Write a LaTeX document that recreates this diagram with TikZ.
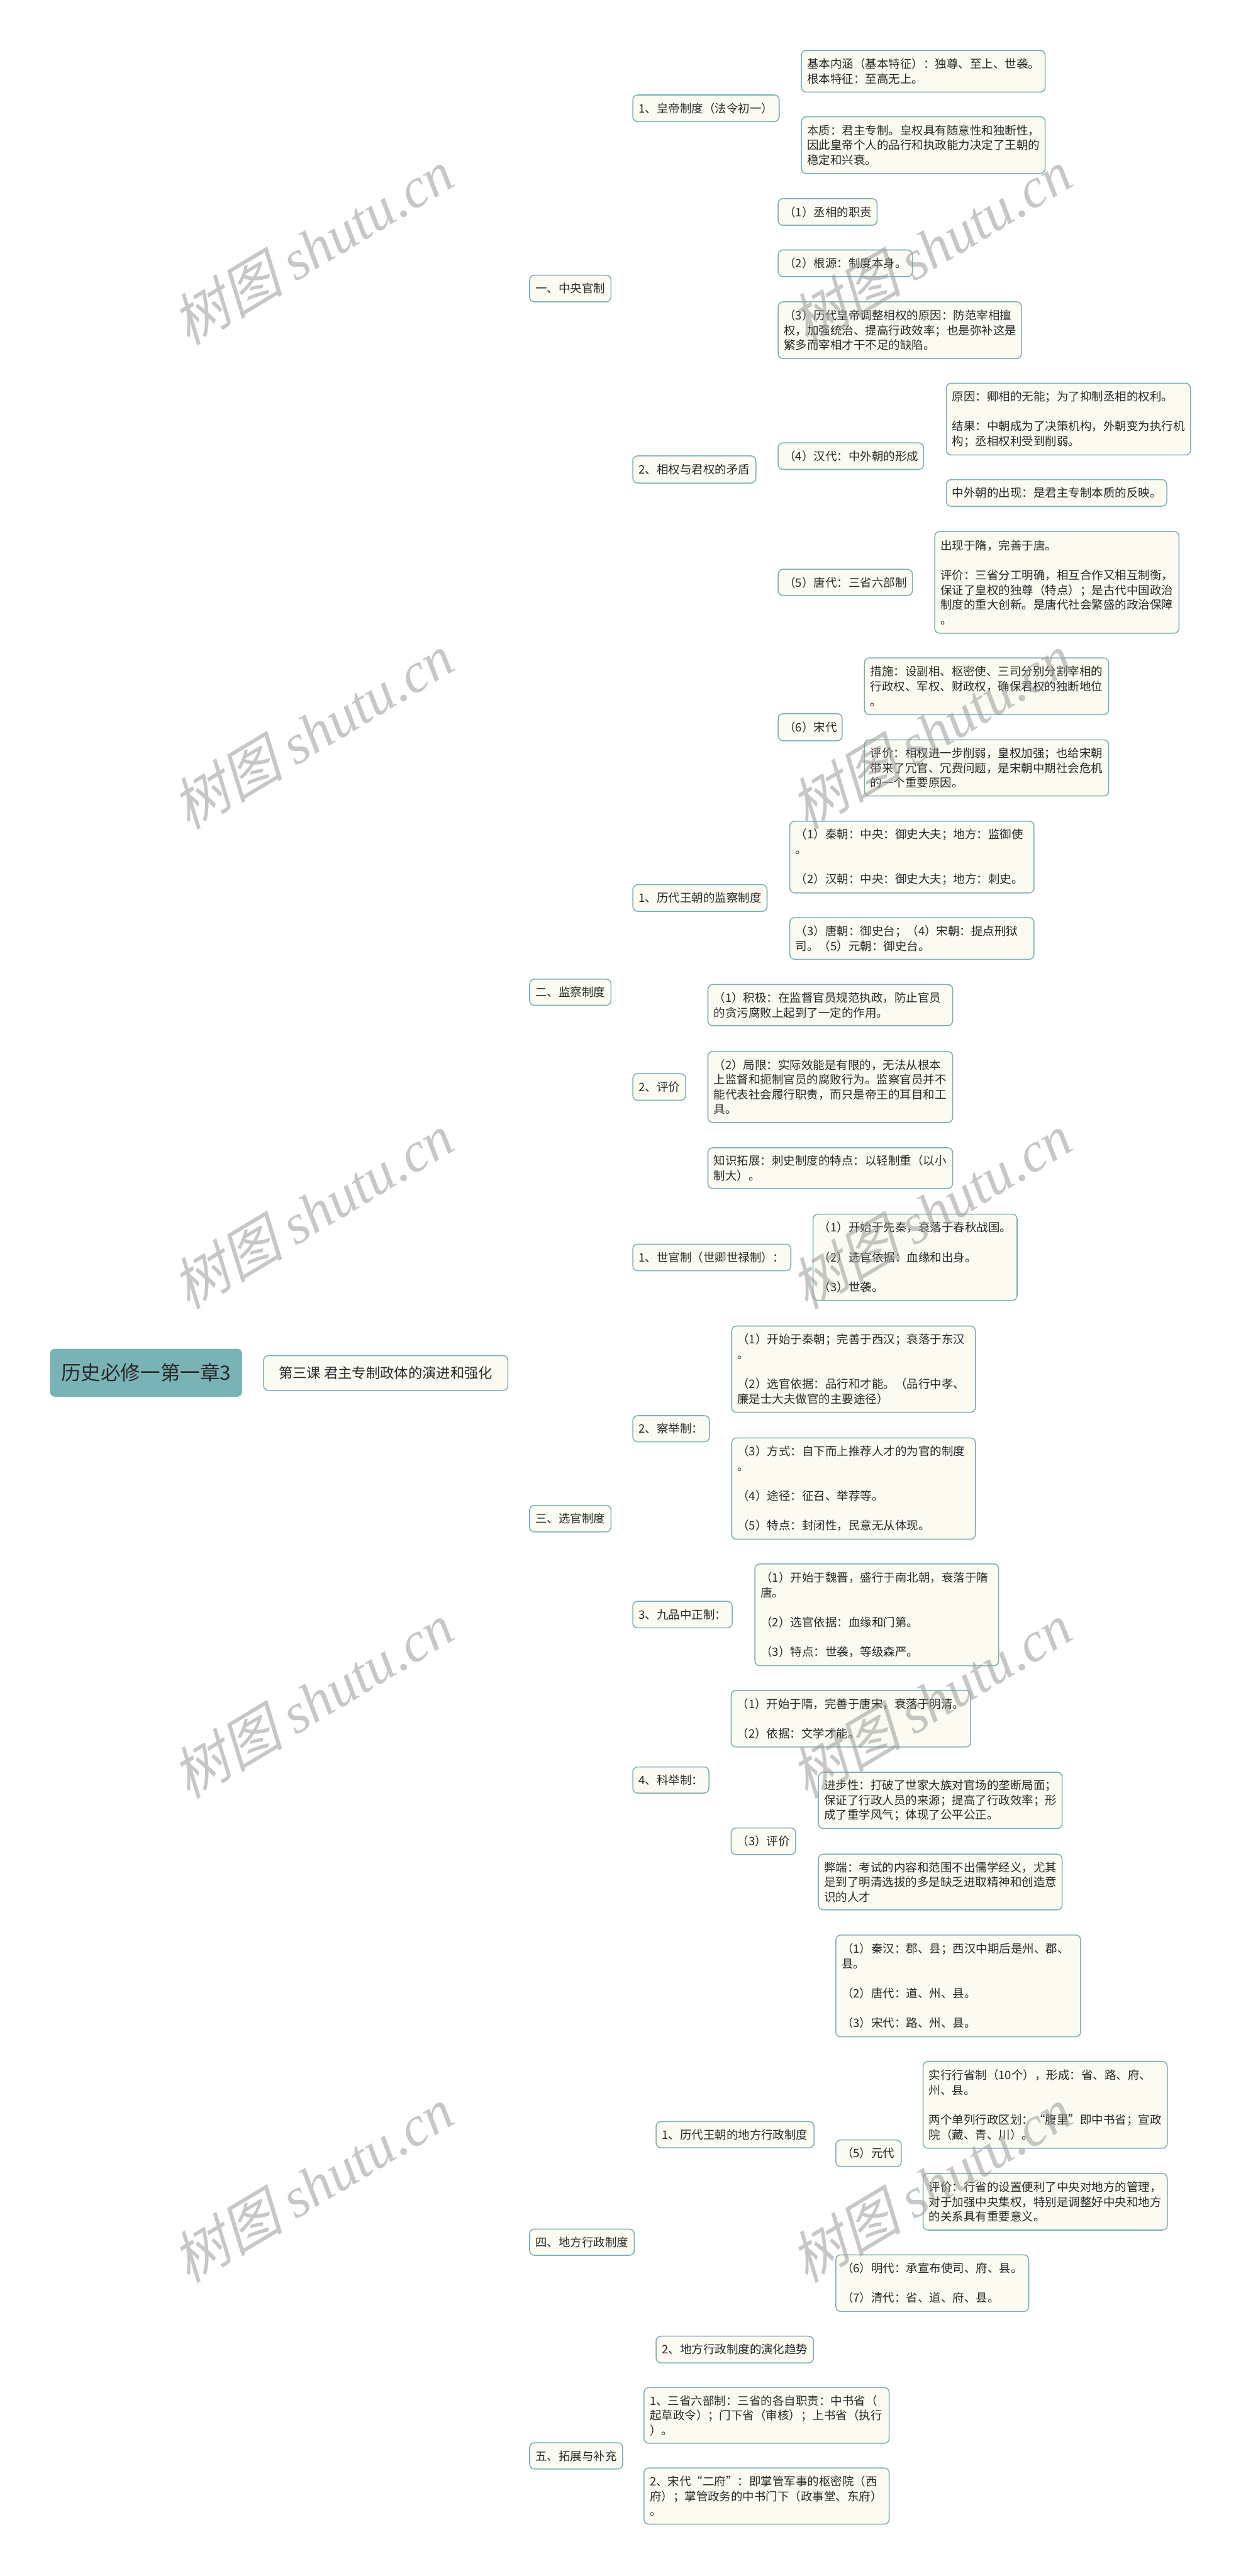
\documentclass[tikz,border=0pt]{standalone}
\usepackage{fontspec}
\setmainfont{Noto Sans CJK SC}
\newfontfamily\wmcjk[FakeSlant=0.25]{Noto Sans CJK SC}
\newfontfamily\wmlat{Liberation Serif}
\setlength{\parindent}{0pt}
\pgfdeclarelayer{bgl}
\pgfsetlayers{bgl,main}
\definecolor{lc}{RGB}{122,176,180}
\definecolor{bgc}{RGB}{252,251,242}
\definecolor{rootc}{RGB}{122,179,182}
\definecolor{tc}{RGB}{40,40,40}
\tikzset{
  box/.style={draw=lc, fill=bgc, line width=1pt, rounded corners=5pt, anchor=north west,
    inner xsep=6pt, inner ysep=0pt, align=left, text=tc,
    font=\fontsize{12pt}{15.3pt}\selectfont},
  conn/.style={draw=lc, line width=1.5pt},
  wm/.style={rotate=31, text=black!40, opacity=0.55, font=\fontsize{58pt}{60pt}\selectfont, inner sep=0pt}
}
\newcommand{\bl}{\\[15.3pt]}
\begin{document}
\begin{tikzpicture}[x=1pt,y=-1pt]
\path[use as bounding box, fill=white] (0,0) rectangle (1280,2658.5);

% root and lesson
\node[fill=rootc, draw=rootc, rounded corners=5pt, anchor=north west, minimum width=198pt, minimum height=49pt,
  inner sep=0pt, text=tc, font=\fontsize{20.5pt}{24pt}\selectfont] (root) at (51.5,1392) {历史必修一第一章3};
\node[box, minimum width=252pt, minimum height=36pt, align=center, font=\fontsize{14.5pt}{17pt}\selectfont] (lesson) at (271.5,1398.5) {第三课 君主专制政体的演进和强化};

% level 1
\node[box, text width=72pt, minimum height=27.5pt] (L1) at (546,283.5) {一、中央官制};
\node[box, text width=72pt, minimum height=27pt] (L2) at (546,1010) {二、监察制度};
\node[box, text width=72pt, minimum height=27.5pt] (L3) at (546,1553) {三、选官制度};
\node[box, text width=96pt, minimum height=27pt] (L4) at (546,2300) {四、地方行政制度};
\node[box, text width=84pt, minimum height=27pt] (L5) at (546,2520.5) {五、拓展与补充};

% branch 1
\node[box, text width=139pt, minimum height=27.5pt] (A1) at (652.5,97.5) {1、皇帝制度（法令初一）};
\node[box, text width=115pt, minimum height=28pt] (A2) at (652.5,470) {2、相权与君权的矛盾};
\node[box, text width=239.5pt, minimum height=43pt] (A1a) at (826.5,51.5) {基本内涵（基本特征）：独尊、至上、世袭。\\根本特征：至高无上。};
\node[box, text width=239.5pt, minimum height=58.5pt] (A1b) at (826.5,120) {本质：君主专制。皇权具有随意性和独断性，\\因此皇帝个人的品行和执政能力决定了王朝的\\稳定和兴衰。};
\node[box, text width=90pt, minimum height=27.5pt] (A2a) at (802.5,204.5) {（1）丞相的职责};
\node[box, text width=126.5pt, minimum height=27.5pt] (A2b) at (802.5,257.5) {（2）根源：制度本身。};
\node[box, text width=239pt, minimum height=58.5pt] (A2c) at (802.5,311) {（3）历代皇帝调整相权的原因：防范宰相擅\\权，加强统治、提高行政效率；也是弥补这是\\繁多而宰相才干不足的缺陷。};
\node[box, text width=138pt, minimum height=27.5pt] (A2d) at (802.5,456.5) {（4）汉代：中外朝的形成};
\node[box, text width=126.5pt, minimum height=27pt] (A2e) at (802.5,587) {（5）唐代：三省六部制};
\node[box, text width=54pt, minimum height=28pt] (A2f) at (802.5,736) {（6）宋代};
\node[box, text width=240pt, minimum height=74pt] (A2d1) at (976,395) {原因：卿相的无能；为了抑制丞相的权利。\bl 结果：中朝成为了决策机构，外朝变为执行机\\构；丞相权利受到削弱。};
\node[box, text width=215.5pt, minimum height=27.5pt] (A2d2) at (976,494.5) {中外朝的出现：是君主专制本质的反映。};
\node[box, text width=240pt, minimum height=105pt] (A2e1) at (964,548) {出现于隋，完善于唐。\bl 评价：三省分工明确，相互合作又相互制衡，\\保证了皇权的独尊（特点）；是古代中国政治\\制度的重大创新。是唐代社会繁盛的政治保障\\。};
\node[box, text width=240pt, minimum height=58.5pt] (A2f1) at (891.5,678.5) {措施：设副相、枢密使、三司分别分割宰相的\\行政权、军权、财政权，确保君权的独断地位\\。};
\node[box, text width=240pt, minimum height=58pt] (A2f2) at (891.5,763) {评价：相权进一步削弱，皇权加强；也给宋朝\\带来了冗官、冗费问题，是宋朝中期社会危机\\的一个重要原因。};

% branch 2
\node[box, text width=126.5pt, minimum height=27.5pt] (B1) at (652.5,912.5) {1、历代王朝的监察制度};
\node[box, text width=42.5pt, minimum height=27.5pt] (B2) at (652.5,1107.5) {2、评价};
\node[box, text width=240pt, minimum height=74pt] (B1a) at (814.5,847) {（1）秦朝：中央：御史大夫；地方：监御使\\。\bl （2）汉朝：中央：御史大夫；地方：刺史。};
\node[box, text width=240pt, minimum height=43pt] (B1b) at (814.5,946.5) {（3）唐朝：御史台；（4）宋朝：提点刑狱\\司。（5）元朝：御史台。};
\node[box, text width=240.5pt, minimum height=42.5pt] (B2a) at (730,1015.5) {（1）积极：在监督官员规范执政，防止官员\\的贪污腐败上起到了一定的作用。};
\node[box, text width=240.5pt, minimum height=73.5pt] (B2b) at (730,1084.5) {（2）局限：实际效能是有限的，无法从根本\\上监督和扼制官员的腐败行为。监察官员并不\\能代表社会履行职责，而只是帝王的耳目和工\\具。};
\node[box, text width=240.5pt, minimum height=42pt] (B2c) at (730,1184) {知识拓展：刺史制度的特点：以轻制重（以小\\制大）。};

% branch 3
\node[box, text width=151pt, minimum height=27.5pt] (C1) at (652.5,1283.5) {1、世官制（世卿世禄制）：};
\node[box, text width=67pt, minimum height=27pt] (C2) at (652.5,1460.5) {2、察举制：};
\node[box, text width=90.5pt, minimum height=27.5pt] (C3) at (652.5,1652) {3、九品中正制：};
\node[box, text width=66.5pt, minimum height=27pt] (C4) at (652.5,1823) {4、科举制：};
\node[box, text width=198.5pt, minimum height=89pt] (C1a) at (838.5,1252.5) {（1）开始于先秦，衰落于春秋战国。\bl （2）选官依据：血缘和出身。\bl （3）世袭。};
\node[box, text width=239.5pt, minimum height=89pt] (C2a) at (754.5,1368) {（1）开始于秦朝；完善于西汉；衰落于东汉\\。\bl （2）选官依据：品行和才能。（品行中孝、\\廉是士大夫做官的主要途径）};
\node[box, text width=239.5pt, minimum height=104.5pt] (C2b) at (754.5,1483.5) {（3）方式：自下而上推荐人才的为官的制度\\。\bl （4）途径：征召、举荐等。\bl （5）特点：封闭性，民意无从体现。};
\node[box, text width=239.5pt, minimum height=105pt] (C3a) at (778.5,1613.5) {（1）开始于魏晋，盛行于南北朝，衰落于隋\\唐。\bl （2）选官依据：血缘和门第。\bl （3）特点：世袭，等级森严。};
\node[box, text width=235pt, minimum height=58.5pt] (C4a) at (754,1744) {（1）开始于隋，完善于唐宋，衰落于明清。\bl （2）依据：文学才能。};
\node[box, text width=54.5pt, minimum height=27.5pt] (C4b) at (754,1886) {（3）评价};
\node[box, text width=239.5pt, minimum height=58pt] (C4b1) at (844,1828.5) {进步性：打破了世家大族对官场的垄断局面；\\保证了行政人员的来源；提高了行政效率；形\\成了重学风气；体现了公平公正。};
\node[box, text width=239.5pt, minimum height=57.5pt] (C4b2) at (844,1913) {弊端：考试的内容和范围不出儒学经义，尤其\\是到了明清选拔的多是缺乏进取精神和创造意\\识的人才};

% branch 4
\node[box, text width=151pt, minimum height=27pt] (D1) at (676.5,2189) {1、历代王朝的地方行政制度};
\node[box, text width=150.5pt, minimum height=27.5pt] (D2) at (676.5,2410.5) {2、地方行政制度的演化趋势};
\node[box, text width=240.5pt, minimum height=105pt] (D1a) at (862,1996.5) {（1）秦汉：郡、县；西汉中期后是州、郡、\\县。\bl （2）唐代：道、州、县。\bl （3）宋代：路、州、县。};
\node[box, text width=55.5pt, minimum height=27.5pt] (D1b) at (862,2208) {（5）元代};
\node[box, text width=187pt, minimum height=58.5pt] (D1c) at (862,2326.5) {（6）明代：承宣布使司、府、县。\bl （7）清代：省、道、府、县。};
\node[box, text width=240pt, minimum height=89.5pt] (D1b1) at (952,2127) {实行行省制（10个），形成：省、路、府、\\州、县。\bl 两个单列行政区划：“腹里”即中书省；宣政\\院（藏、青、川）。};
\node[box, text width=240pt, minimum height=58.5pt] (D1b2) at (952,2242.5) {评价：行省的设置便利了中央对地方的管理，\\对于加强中央集权，特别是调整好中央和地方\\的关系具有重要意义。};

% branch 5
\node[box, text width=241pt, minimum height=57.5pt] (E1) at (664,2463.5) {1、三省六部制：三省的各自职责：中书省（\\起草政令）；门下省（审核）；上书省（执行\\）。};
\node[box, text width=241pt, minimum height=58pt] (E2) at (664,2546.5) {2、宋代“二府”：即掌管军事的枢密院（西\\府）；掌管政务的中书门下（政事堂、东府）\\。};

% connectors
\begin{pgfonlayer}{bgl}
\draw[conn] (root.east) -- (lesson.west);
\draw[conn] (lesson.east) -- ++(11.5,0) coordinate (s0);
\foreach \c in {L1,L2,L3,L4,L5} \draw[conn] (s0) .. controls (s0 |- \c.west) .. (\c.west);
\draw[conn] (L1.east) -- ++(11,0) coordinate (s1);
\foreach \c in {A1,A2} \draw[conn] (s1) .. controls (s1 |- \c.west) .. (\c.west);
\draw[conn] (A1.east) -- ++(11.5,0) coordinate (sA1);
\foreach \c in {A1a,A1b} \draw[conn] (sA1) .. controls (sA1 |- \c.west) .. (\c.west);
\draw[conn] (A2.east) -- ++(11.5,0) coordinate (sA2);
\foreach \c in {A2a,A2b,A2c,A2d,A2e,A2f} \draw[conn] (sA2) .. controls (sA2 |- \c.west) .. (\c.west);
\draw[conn] (A2d.east) -- ++(11.5,0) coordinate (sA2d);
\foreach \c in {A2d1,A2d2} \draw[conn] (sA2d) .. controls (sA2d |- \c.west) .. (\c.west);
\draw[conn] (A2e.east) -- (A2e1.west);
\draw[conn] (A2f.east) -- ++(11.5,0) coordinate (sA2f);
\foreach \c in {A2f1,A2f2} \draw[conn] (sA2f) .. controls (sA2f |- \c.west) .. (\c.west);
\draw[conn] (L2.east) -- ++(11,0) coordinate (s2);
\foreach \c in {B1,B2} \draw[conn] (s2) .. controls (s2 |- \c.west) .. (\c.west);
\draw[conn] (B1.east) -- ++(11.5,0) coordinate (sB1);
\foreach \c in {B1a,B1b} \draw[conn] (sB1) .. controls (sB1 |- \c.west) .. (\c.west);
\draw[conn] (B2.east) -- ++(11.5,0) coordinate (sB2);
\foreach \c in {B2a,B2b,B2c} \draw[conn] (sB2) .. controls (sB2 |- \c.west) .. (\c.west);
\draw[conn] (L3.east) -- ++(11,0) coordinate (s3);
\foreach \c in {C1,C2,C3,C4} \draw[conn] (s3) .. controls (s3 |- \c.west) .. (\c.west);
\draw[conn] (C1.east) -- (C1a.west);
\draw[conn] (C2.east) -- ++(11.5,0) coordinate (sC2);
\foreach \c in {C2a,C2b} \draw[conn] (sC2) .. controls (sC2 |- \c.west) .. (\c.west);
\draw[conn] (C3.east) -- (C3a.west);
\draw[conn] (C4.east) -- ++(11.5,0) coordinate (sC4);
\foreach \c in {C4a,C4b} \draw[conn] (sC4) .. controls (sC4 |- \c.west) .. (\c.west);
\draw[conn] (C4b.east) -- ++(11.5,0) coordinate (sC4b);
\foreach \c in {C4b1,C4b2} \draw[conn] (sC4b) .. controls (sC4b |- \c.west) .. (\c.west);
\draw[conn] (L4.east) -- ++(11,0) coordinate (s4);
\foreach \c in {D1,D2} \draw[conn] (s4) .. controls (s4 |- \c.west) .. (\c.west);
\draw[conn] (D1.east) -- ++(11,0) coordinate (sD1);
\foreach \c in {D1a,D1b,D1c} \draw[conn] (sD1) .. controls (sD1 |- \c.west) .. (\c.west);
\draw[conn] (D1b.east) -- ++(11,0) coordinate (sD1b);
\foreach \c in {D1b1,D1b2} \draw[conn] (sD1b) .. controls (sD1b |- \c.west) .. (\c.west);
\draw[conn] (L5.east) -- ++(11,0) coordinate (s5);
\foreach \c in {E1,E2} \draw[conn] (s5) .. controls (s5 |- \c.west) .. (\c.west);
\end{pgfonlayer}

% watermarks
\foreach \i/\yy in {1/255,2/755,3/1250,4/1755,5/2255} {
  \node[wm] (wmL\i) at (322,\yy) {{\wmcjk 树图} {\wmlat\itshape shutu.cn}};
  \node[wm] (wmR\i) at (960,\yy) {{\wmcjk 树图} {\wmlat\itshape shutu.cn}};
}
\end{tikzpicture}
\end{document}
